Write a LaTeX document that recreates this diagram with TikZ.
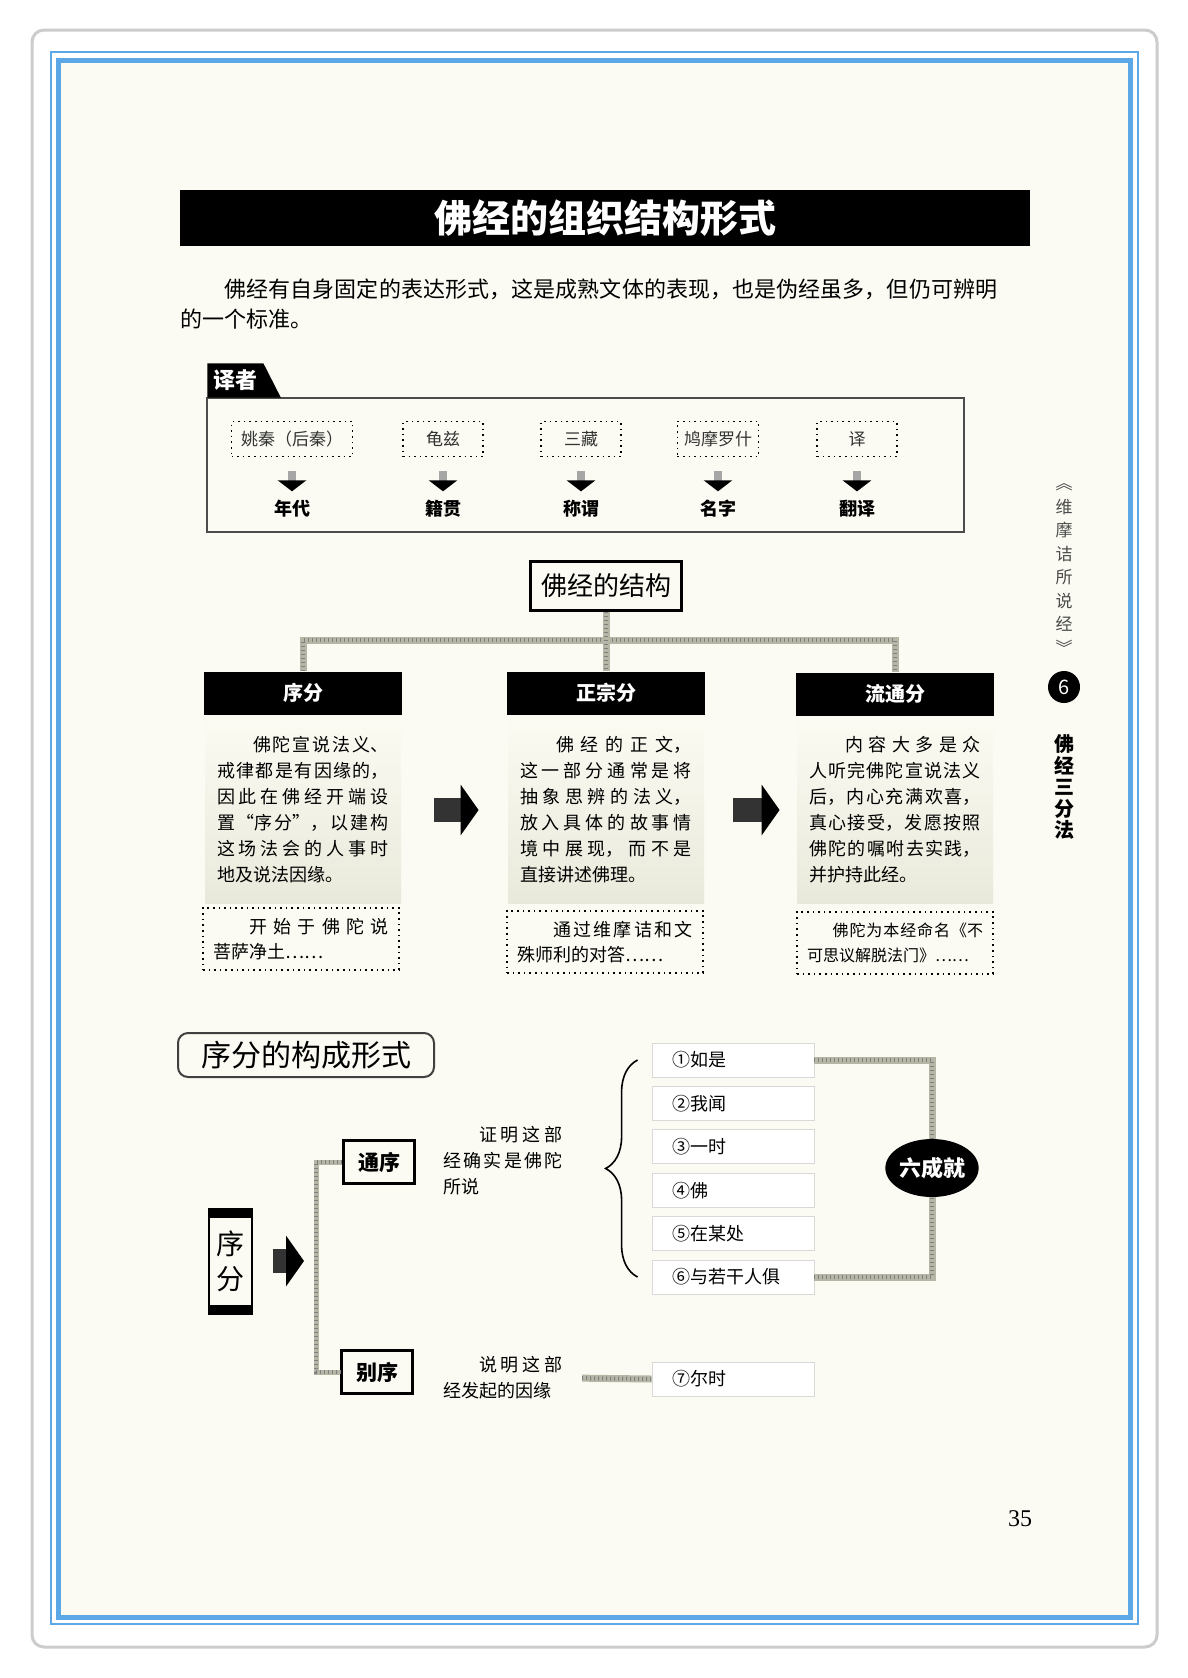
\documentclass[tikz,border=0pt]{standalone}
\usepackage{fontspec}
\setmainfont{Liberation Serif}
\newfontfamily\cjk{Noto Sans CJK SC}
\usetikzlibrary{shapes,arrows.meta,positioning,decorations.pathreplacing}
\XeTeXlinebreaklocale "zh"
\XeTeXlinebreakskip=0pt plus 4pt
\definecolor{paper}{RGB}{251,251,243}
\definecolor{frame}{RGB}{92,168,230}
\definecolor{rope}{RGB}{182,182,166}
\definecolor{shade}{RGB}{233,233,219}
\newcommand{\zhfont}[2]{\cjk\fontsize{#1}{#2}\selectfont}
\tikzstyle{banner} = [rectangle, fill=black, text=white, font=\zhfont{19}{22}\bfseries,
minimum width=425pt, minimum height=28pt]
\tikzstyle{tab} = [trapezium, trapezium left angle=90, trapezium right angle=63, fill=black,
text=white, font=\zhfont{11}{13}\bfseries, inner xsep=3pt, minimum height=15.5pt, anchor=bottom left corner]
\tikzstyle{tag} = [rectangle, draw, dotted, line width=0.8pt, minimum height=17.5pt, font=\zhfont{8.5}{10}, text=black!80]
\tikzstyle{tagname} = [font=\zhfont{9}{10}\bfseries]
\tikzstyle{down} = [draw=black!35, line width=4pt, -{Triangle[length=5.5pt,width=14pt,color=black]},
shorten <=7pt, shorten >=1pt]
\tikzstyle{root} = [rectangle, draw, line width=1.5pt, font=\zhfont{13}{15}, minimum width=75.5pt, minimum height=24.5pt]
\tikzstyle{bar} = [rectangle, fill=black, text=white, font=\zhfont{10}{12}\bfseries, minimum width=99pt, minimum height=21.5pt]
\tikzstyle{para} = [rectangle, top color=paper, bottom color=shade, text width=86pt, align=justify,
inner xsep=6pt, minimum height=93.5pt, font=\zhfont{9}{13}]
\tikzstyle{note} = [rectangle, draw, dotted, line width=0.8pt, text width=88pt, align=justify,
inner xsep=5pt, minimum height=31pt, font=\zhfont{9}{12.5}]
\tikzstyle{rope} = [draw=rope, line width=3.5pt, postaction={draw=black!50, line width=2pt, dash pattern=on 0.5pt off 1.5pt}]
\tikzstyle{fat} = [draw=black!80, line width=12pt, -{Triangle[length=9pt,width=25pt,color=black]}]
\tikzstyle{caption} = [rectangle, rounded corners=5pt, draw=black!75, line width=1pt, font=\zhfont{15}{17},
minimum width=128pt, minimum height=22pt]
\tikzstyle{pillar} = [rectangle, draw, line width=1pt, minimum width=21.5pt, minimum height=52.5pt,
font=\zhfont{14}{17.5}, align=center,
path picture={\fill (path picture bounding box.north west) rectangle ([yshift=-4.5pt]path picture bounding box.north east);
\fill (path picture bounding box.south west) rectangle ([yshift=4.5pt]path picture bounding box.south east);}]
\tikzstyle{sect} = [rectangle, draw, line width=1.3pt, font=\zhfont{10.5}{12}\bfseries, minimum width=35.5pt, minimum height=21.5pt]
\tikzstyle{gloss} = [text width=60pt, align=justify, font=\zhfont{9}{13}]
\tikzstyle{item} = [rectangle, draw=black!15, fill=white, minimum width=81pt, minimum height=17pt,
text width=61pt, inner xsep=10pt, align=left, font=\zhfont{9}{10}\addfontfeature{LetterSpace=12}]
\tikzstyle{hub} = [ellipse, fill=black, text=white, font=\zhfont{11}{12}\bfseries, minimum width=46pt,
minimum height=29pt, inner sep=0pt]

\begin{document}
\begin{tikzpicture}[x=0.5pt,y=-0.5pt]
\useasboundingbox (0,0) rectangle (1188,1678);
\fill [white] (0,0) rectangle (1188,1678);
\draw [black!20, line width=1.5pt, rounded corners=6pt] (32,30) rectangle (1157,1647);
\draw [frame, line width=1pt] (51,52) rectangle (1138,1624);
\draw [frame, line width=2.5pt, fill=paper] (58,60) rectangle (1130,1617);

\node [banner] (T) at (605,218) {佛经的组织结构形式};
\node [anchor=north west, inner sep=0pt, text width=408.5pt, align=justify, font=\zhfont{11}{15}] (intro) at (180,278) {\hspace*{2em}佛经有自身固定的表达形式，这是成熟文体的表现，也是伪经虽多，但仍可辨明\linebreak 的一个标准。};

\draw [black!70, line width=1pt] (207,398) rectangle (964,532);
\node [tab] (YZ) at (207,398) {译者};
\node [tag, minimum width=60.5pt] (t1) at (292,439) {姚秦（后秦）};
\node [tag, minimum width=40pt] (t2) at (443,439) {龟兹};
\node [tag, minimum width=40pt] (t3) at (581,439) {三藏};
\node [tag, minimum width=40pt] (t4) at (718,439) {鸠摩罗什};
\node [tag, minimum width=40pt] (t5) at (857,439) {译};
\node [tagname, below of=t1, node distance=35pt] (n1) {年代};
\node [tagname, below of=t2, node distance=35pt] (n2) {籍贯};
\node [tagname, below of=t3, node distance=35pt] (n3) {称谓};
\node [tagname, below of=t4, node distance=35pt] (n4) {名字};
\node [tagname, below of=t5, node distance=35pt] (n5) {翻译};
\path [down] (t1) -- (n1);
\path [down] (t2) -- (n2);
\path [down] (t3) -- (n3);
\path [down] (t4) -- (n4);
\path [down] (t5) -- (n5);

\node [root] (S) at (606,586) {佛经的结构};
\node [bar] (B1) at (303,693) {序分};
\node [bar] (B2) at (606,693) {正宗分};
\node [bar] (B3) at (895,694) {流通分};
\coordinate (J) at (606,640);
\path [rope] (B1.north) |- (J) -| (B3.north);
\path [rope] (S) -- (B2);
\node [para] (P1) at (303,810) {\hspace*{2em}佛陀宣说法义、\linebreak 戒律都是有因缘的，\linebreak 因此在佛经开端设\linebreak 置“序分”，以建构\linebreak 这场法会的人事时\linebreak 地及说法因缘。};
\node [para] (P2) at (606,810) {\hspace*{2em}佛经的正文，\linebreak 这一部分通常是将\linebreak 抽象思辨的法义，\linebreak 放入具体的故事情\linebreak 境中展现，而不是\linebreak 直接讲述佛理。};
\node [para] (P3) at (895,810) {\hspace*{2em}内容大多是众\linebreak 人听完佛陀宣说法义\linebreak 后，内心充满欢喜，\linebreak 真心接受，发愿按照\linebreak 佛陀的嘱咐去实践，\linebreak 并护持此经。};
\node [note] (N1) at (301,939) {\hspace*{2em}开始于佛陀说\linebreak 菩萨净土……};
\node [note] (N2) at (605,942) {\hspace*{2em}通过维摩诘和文\linebreak 殊师利的对答……};
\node [note, font=\zhfont{8}{12.5}] (N3) at (895,943) {\hspace*{1.6em}佛陀为本经命名《不\linebreak 可思议解脱法门》……};
\path [fat, shorten <=16.5pt, shorten >=14.5pt] (P1) -- (P2);
\path [fat, shorten <=14.5pt, shorten >=8.5pt] (P2) -- (P3);

\node [font=\zhfont{8.5}{11.75}, text=black!70, align=center] (vol) at (1064,569) {︽\\维\\摩\\诘\\所\\说\\经\\︾};
\node [circle, fill=black, text=white, minimum size=16pt, inner sep=0pt, font=\zhfont{10}{12}] (ch) at (1064,687) {6};
\node [font=\zhfont{10}{10.75}\bfseries, align=center] (part) at (1064,787) {佛\\经\\三\\分\\法};

\node [caption] (C) at (306,1055) {序分的构成形式};
\node [pillar] (X) at (230,1261) {序\\分};
\node [sect] (A) at (379,1162) {通序};
\node [sect] (Bb) at (377,1372) {别序};
\coordinate (F) at (316,1261);
\path [fat, shorten <=10pt, shorten >=6pt] (X) -- (F);
\path [rope, line width=2.5pt] (A.west) -| (F) |- (Bb.west);
\node [gloss] (G1) at (503,1161) {\hspace*{2em}证明这部\linebreak 经确实是佛陀\linebreak 所说};
\node [gloss] (G2) at (503,1378) {\hspace*{2em}说明这部\linebreak 经发起的因缘};

\node [item] (I1) at (733,1060) {①如是};
\node [item, below of=I1, node distance=21.7pt] (I2) {②我闻};
\node [item, below of=I2, node distance=21.7pt] (I3) {③一时};
\node [item, below of=I3, node distance=21.7pt] (I4) {④佛};
\node [item, below of=I4, node distance=21.7pt] (I5) {⑤在某处};
\node [item, below of=I5, node distance=21.7pt] (I6) {⑥与若干人俱};
\node [item] (I7) at (733,1379) {⑦尔时};
\draw [decorate, decoration={brace, amplitude=16pt}, line width=0.8pt] ([xshift=-7pt]I6.west) -- ([xshift=-7pt]I1.west);
\node [hub] (H) at (932,1168) {六成就};
\path [rope] (I1.east) -| (H.north);
\path [rope] (I6.east) -| (H.south);
\path [rope, shorten <=6pt] (G2.east) -- (I7.west);

\node [font=\fontsize{12}{14}\selectfont] (pg) at (1020,1519) {35};
\end{tikzpicture}
\end{document}
